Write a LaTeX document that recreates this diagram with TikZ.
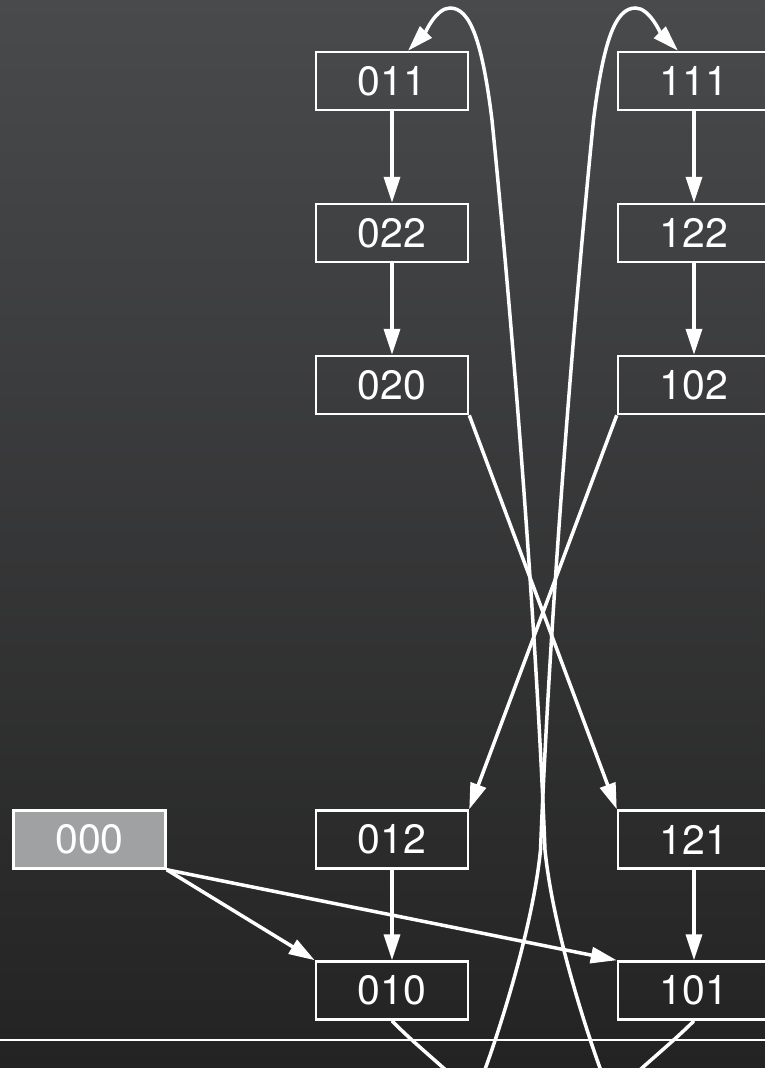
\documentclass[tikz,border=0pt]{standalone}
\usepackage{fontspec}
\setmainfont{TeX Gyre Heros}
\usetikzlibrary{arrows.meta}
\definecolor{bgtop}{HTML}{494A4C}
\definecolor{bgbot}{HTML}{232323}
\definecolor{startfill}{HTML}{A0A1A3}
\tikzset{
  state/.style={draw=white, line width=2.5pt, minimum width=152pt, minimum height=58pt,
    inner sep=0pt, text=white, font=\fontsize{41}{48}\selectfont},
  startstate/.style={state, fill=startfill},
  edge/.style={draw=white, line width=3.5pt, -{Triangle[length=26pt,width=16pt]}},
  plain/.style={draw=white, line width=2.5pt}
}
\begin{document}
\begin{tikzpicture}[x=1pt, y=-1pt]
  % canvas with vertical gradient
  \useasboundingbox (0,0) rectangle (765,1068);
  \shade[top color=bgtop, bottom color=bgbot] (0,0) rectangle (765,1068);
  \clip (0,0) rectangle (765,1068);

  % states
  \node[state] (n011) at (392,81) {011};
  \node[state] (n022) at (392,233) {022};
  \node[state] (n020) at (392,385) {020};
  \node[state] (n111) at (694,81) {111};
  \node[state] (n122) at (694,233) {122};
  \node[state] (n102) at (694,385) {102};
  \node[startstate] (n000) at (89.5,839.5) {000};
  \node[state] (n012) at (392,839.5) {012};
  \node[state] (n121) at (694,839.5) {121};
  \node[state] (n010) at (392,990.5) {010};
  \node[state] (n101) at (694,990.5) {101};

  % baseline rule
  \coordinate (ruleL) at (0,1040);
  \coordinate (ruleR) at (765,1040);
  \draw[plain] (ruleL) -- (ruleR);

  % straight transitions
  \draw[edge] (n011.south) -- (n022.north);
  \draw[edge] (n022.south) -- (n020.north);
  \draw[edge] (n111.south) -- (n122.north);
  \draw[edge] (n122.south) -- (n102.north);
  \draw[edge] (n012.south) -- (n010.north);
  \draw[edge] (n121.south) -- (n101.north);
  \draw[edge] (n020.south east) -- (n121.north west);
  \draw[edge] (n102.south west) -- (n012.north east);
  \draw[edge] (n000.south east) -- (n010.north west);
  \draw[edge] (n000.south east) -- (n101.north west);

  % long loops back to the top row
  \draw[edge] (n101.south) .. controls (680,1035) and (660,1052) .. (642,1068)
    .. controls (625,1085) and (606,1085) .. (600,1068)
    .. controls (588,1035) and (553,930) .. (545,850)
    .. controls (535,600) and (510,300) .. (492,120)
    .. controls (482,40) and (470,8) .. (450,8)
    .. controls (436,8) and (425,33) .. ([xshift=16pt]n011.north);
  \draw[edge] (n010.south) .. controls (405.5,1035) and (425.5,1052) .. (443.5,1068)
    .. controls (460.5,1085) and (479.5,1085) .. (485.5,1068)
    .. controls (497.5,1035) and (532.5,930) .. (540.5,850)
    .. controls (550.5,600) and (575.5,300) .. (593.5,120)
    .. controls (603.5,40) and (615.5,8) .. (635.5,8)
    .. controls (649.5,8) and (660.5,33) .. ([xshift=-16pt]n111.north);
\end{tikzpicture}
\end{document}
